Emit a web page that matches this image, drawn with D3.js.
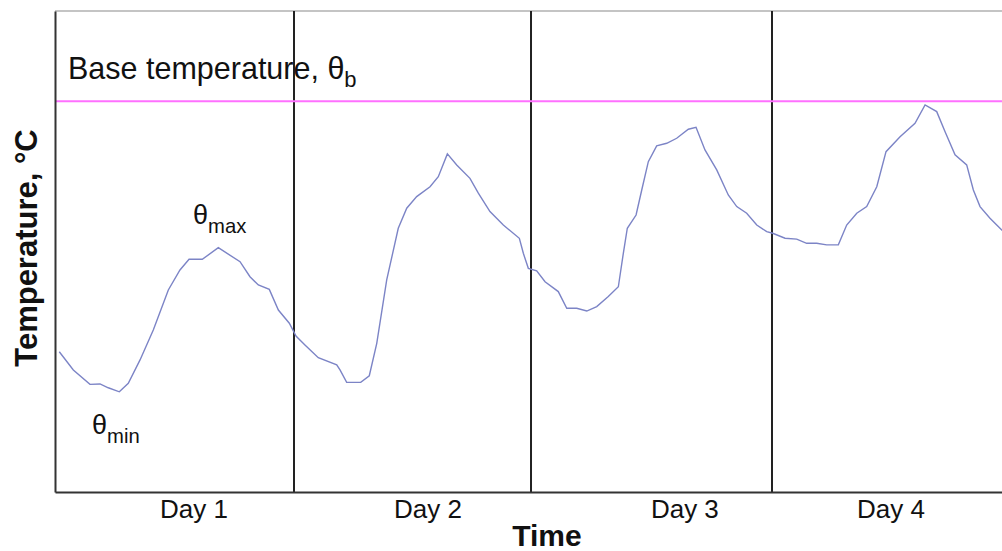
<!DOCTYPE html>
<html>
<head>
<meta charset="utf-8">
<script src="https://cdn.jsdelivr.net/npm/d3@7"></script>
<style>
  body { margin: 0; background: #fff; }
  text { font-family: "Liberation Sans", Arial, sans-serif; fill: #111; }
</style>
</head>
<body>
<script>
"use strict";

// hours since start of day 1, and temperature (deg C)
var hours = [0.43, 1.84, 3.51, 4.52, 5.35, 6.46, 7.36, 8.54, 9.87, 11.38, 12.55, 13.46, 14.79,
  16.40, 18.58, 19.58, 20.42, 21.52, 22.43, 23.53, 24.20, 25.10, 26.44, 28.29, 28.62, 29.29,
  30.70, 31.56, 32.31, 33.31, 34.47, 35.32, 36.32, 37.66, 38.49, 39.40, 40.34, 41.67, 42.51,
  43.68, 45.02, 46.63, 47.03, 47.53, 48.37, 49.21, 50.54, 51.39, 52.39, 53.40, 54.40, 55.56,
  56.57, 57.07, 57.47, 58.35, 58.92, 59.58, 60.42, 61.43, 62.43, 63.60, 64.37, 65.27, 66.45,
  67.61, 68.46, 69.46, 70.47, 71.47, 72.07, 73.31, 74.48, 75.48, 76.49, 77.49, 78.66, 79.50,
  80.51, 81.51, 82.52, 83.45, 84.86, 86.36, 87.37, 88.54, 89.38, 90.38, 91.55, 92.22, 92.89,
  93.89, 95.07, 95.90];
var temps = [7.00, 6.09, 5.37, 5.39, 5.20, 5.00, 5.42, 6.59, 8.08, 10.08, 11.08, 11.61, 11.61,
  12.19, 11.49, 10.74, 10.33, 10.11, 9.08, 8.42, 7.78, 7.34, 6.70, 6.34, 6.09, 5.47,
  5.47, 5.80, 7.42, 10.58, 13.16, 14.16, 14.74, 15.23, 15.73, 16.87, 16.32, 15.65, 14.91,
  13.99, 13.32, 12.66, 11.91, 11.16, 11.04, 10.49, 10.00, 9.17, 9.17, 9.03, 9.25, 9.75,
  10.24, 11.91, 13.16, 13.82, 15.07, 16.48, 17.27, 17.40, 17.65, 18.10, 18.20, 17.07, 16.07,
  14.82, 14.24, 13.91, 13.32, 12.99, 12.91, 12.66, 12.62, 12.41, 12.41, 12.33, 12.33, 13.32,
  13.91, 14.24, 15.23, 16.98, 17.73, 18.40, 19.31, 18.98, 17.98, 16.82, 16.32, 15.07, 14.24,
  13.66, 13.07, 12.77];

var baseTemp = 19.5;
var dayBreaks = [24, 47.8, 72];
var dayLabels = ["Day 1", "Day 2", "Day 3", "Day 4"];
var dayLabelHours = [13.9, 37.4, 63.2, 83.9];

window.onload = function() {
  var width = 1002, height = 551;
  var left = 55, right = 1002, top = 11, bottom = 492;

  var x = d3.scaleLinear().domain([0, 96]).range([left, 1011]);
  var y = d3.scaleLinear().domain([0, 24]).range([bottom, top]);

  var svg = d3.select("body").append("svg")
      .attr("width", width)
      .attr("height", height);

  svg.append("clipPath").attr("id", "plot")
    .append("rect")
      .attr("x", left).attr("y", 0)
      .attr("width", right - left).attr("height", bottom);

  // light frame line along the top
  svg.append("line")
      .attr("x1", left).attr("x2", right)
      .attr("y1", top).attr("y2", top)
      .style("stroke", "#c4c4c4")
      .style("stroke-width", 2);

  // day separators
  svg.selectAll(".day").data(dayBreaks).enter().append("line")
      .attr("class", "day")
      .attr("x1", d => x(d)).attr("x2", d => x(d))
      .attr("y1", top).attr("y2", bottom)
      .style("stroke", "#222")
      .style("stroke-width", 2);

  // base temperature
  svg.append("line")
      .attr("x1", left).attr("x2", right)
      .attr("y1", y(baseTemp)).attr("y2", y(baseTemp))
      .style("stroke", "#ff70ff")
      .style("stroke-width", 2);

  // temperature trace
  var pts = hours.map((h, i) => [h, temps[i]]);
  svg.append("path")
      .datum(pts)
      .attr("clip-path", "url(#plot)")
      .attr("d", d3.line().x(d => x(d[0])).y(d => y(d[1])))
      .style("fill", "none")
      .style("stroke", "#7c84c6")
      .style("stroke-width", 1.4);

  // axes
  var xAxis = svg.append("g")
      .attr("transform", "translate(0," + bottom + ")")
      .call(d3.axisBottom(x).tickValues(dayLabelHours).tickSize(0).tickPadding(8)
        .tickFormat((d, i) => dayLabels[i]));
  xAxis.select(".domain").style("stroke", "#333").style("stroke-width", 2);
  xAxis.selectAll("text")
      .style("font-family", "'Liberation Sans', Arial, sans-serif")
      .style("font-size", "26px")
      .style("fill", "#111");

  var yAxis = svg.append("g")
      .attr("transform", "translate(" + left + ",0)")
      .call(d3.axisLeft(y).tickValues([]).tickSizeOuter(0));
  yAxis.select(".domain").style("stroke", "#333").style("stroke-width", 2);

  svg.append("text")
      .attr("x", 547).attr("y", 546)
      .attr("text-anchor", "middle")
      .style("font-size", "30px").style("font-weight", "bold")
      .text("Time");

  svg.append("text")
      .attr("transform", "translate(37,248) rotate(-90)")
      .attr("text-anchor", "middle")
      .style("font-size", "31px").style("font-weight", "bold")
      .text("Temperature, \u00b0C");

  // labels with subscripts
  function theta(px, py, sub, size) {
    var t = svg.append("text").attr("x", px).attr("y", py).style("font-size", size + "px");
    t.append("tspan").text("\u03b8");
    t.append("tspan").attr("dy", 9).style("font-size", (size * 0.75) + "px").text(sub);
  }

  var b = svg.append("text").attr("x", 68).attr("y", 79).style("font-size", "30.5px");
  b.append("tspan").text("Base temperature, \u03b8");
  b.append("tspan").attr("dy", 8).style("font-size", "22px").text("b");

  theta(193, 224, "max", 27);
  theta(92, 434, "min", 27);
};
</script>
</body>
</html>
